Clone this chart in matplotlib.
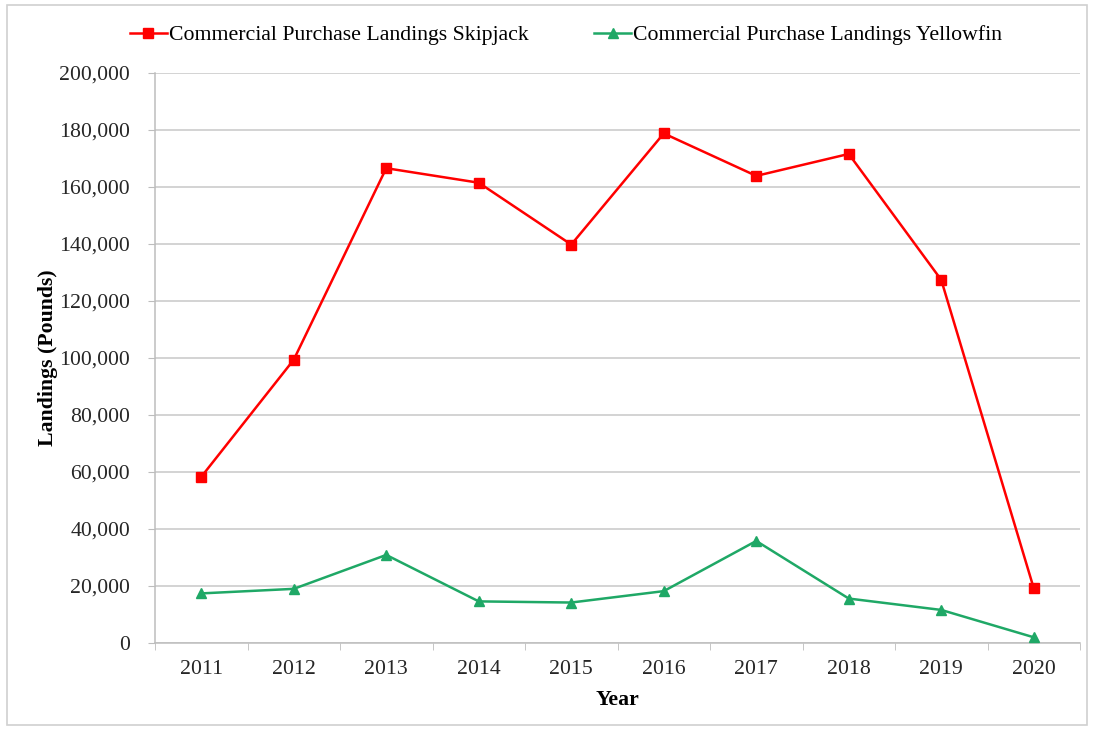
import matplotlib
matplotlib.use("Agg")
import matplotlib.pyplot as plt
from matplotlib.ticker import FuncFormatter, FixedLocator
from matplotlib.patches import Rectangle

years = ["2011", "2012", "2013", "2014", "2015", "2016", "2017", "2018", "2019", "2020"]
skipjack = [58300, 99400, 166600, 161500, 139800, 178800, 163900, 171600, 127400, 19200]
yellowfin = [17400, 19000, 30900, 14600, 14200, 18200, 35800, 15600, 11600, 2000]

plt.rcParams['font.family'] = ['Liberation Serif', 'DejaVu Serif']
fs = 15.7

fig = plt.figure(figsize=(10.93, 7.30), dpi=100)
ax = fig.add_axes([155 / 1093, 1 - 643 / 730, 925 / 1093, 570 / 730])

# outer border of the chart area
fig.patches.append(Rectangle((7 / 1093, 5 / 730), 1080 / 1093, 720 / 730,
                             transform=fig.transFigure, fill=False,
                             edgecolor='#d0d0d0', linewidth=1.2))

x = list(range(len(years)))
ax.plot(x, skipjack, color='#ff0000', linewidth=1.8, marker='s', markersize=7,
        label='Commercial Purchase Landings Skipjack', zorder=3)
ax.plot(x, yellowfin, color='#1fa866', linewidth=1.8, marker='^', markersize=7.5,
        label='Commercial Purchase Landings Yellowfin', zorder=3)

ax.set_xlim(-0.5, len(years) - 0.5)
ax.set_ylim(0, 200000)
ax.set_yticks(range(0, 200001, 20000))
ax.yaxis.set_major_formatter(FuncFormatter(lambda v, p: f"{int(v):,}"))
ax.set_xticks(x)
ax.set_xticklabels(years)
ax.xaxis.set_minor_locator(FixedLocator([i - 0.5 for i in range(len(years) + 1)]))

ax.grid(axis='y', color='#c8c8c8', linewidth=1.1)
ax.set_axisbelow(True)
for s in ['top', 'right']:
    ax.spines[s].set_visible(False)
for s in ['left', 'bottom']:
    ax.spines[s].set_color('#bdbdbd')
    ax.spines[s].set_linewidth(1.1)

ax.tick_params(axis='y', length=5, color='#bdbdbd', labelsize=fs, pad=13, labelcolor='#262626')
ax.tick_params(axis='x', which='major', length=0, labelsize=fs, pad=12, labelcolor='#262626')
ax.tick_params(axis='x', which='minor', length=5, color='#bdbdbd')

ax.set_ylabel('Landings (Pounds)', fontsize=fs, fontweight='bold', labelpad=1)
ax.set_xlabel('Year', fontsize=fs, fontweight='bold', labelpad=8)

fig.legend(loc='center', bbox_to_anchor=(566 / 1093, 1 - 35 / 730), ncol=2,
           frameon=False, fontsize=fs, handlelength=1.7, handletextpad=0.1,
           columnspacing=3.0)

fig.savefig('out.png', dpi=100)
